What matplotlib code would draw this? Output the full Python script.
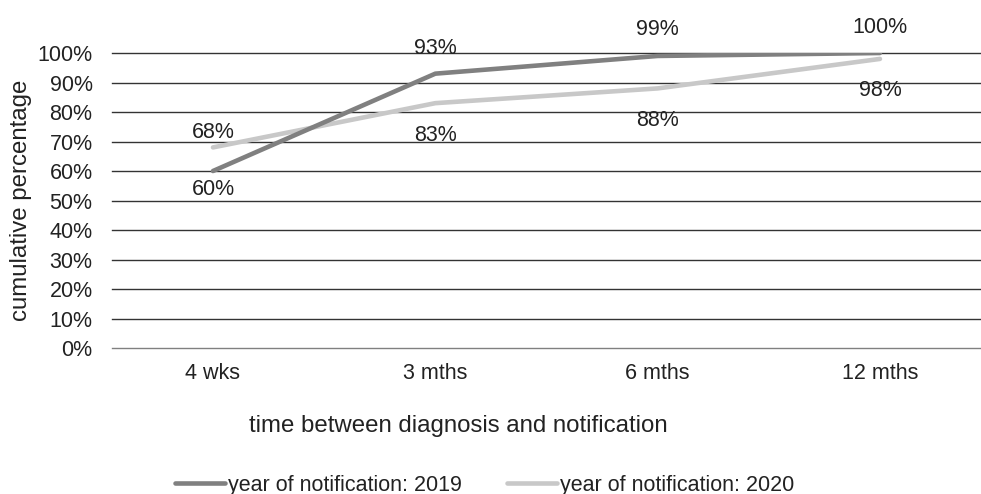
import matplotlib
matplotlib.use("Agg")
import matplotlib.pyplot as plt
from matplotlib.lines import Line2D

plt.rcParams["font.family"] = ["Liberation Sans", "DejaVu Sans"]

categories = ["4 wks", "3 mths", "6 mths", "12 mths"]
pct_2019 = [60, 93, 99, 100]
pct_2020 = [68, 83, 88, 98]
yticks = list(range(0, 101, 10))

# pixel offsets of the value labels from their points (layout only)
off_2019 = [-18, 25, 26, 26]
off_2020 = [15, -32, -32, -32]

c2019 = "#808080"
c2020 = "#c8c8c8"
txt = "#222222"
fs = 15.5
fs_title = 17.3

fig = plt.figure(figsize=(9.81, 4.94), dpi=100)
ax = fig.add_axes([0.1142, 0.2955, 0.8848, 0.5972])

for y in yticks:
    ax.axhline(y, color="#333333" if y else "#808080", linewidth=1.0,
               zorder=1, clip_on=False)

x = list(range(len(categories)))
ax.plot(x, pct_2019, color=c2019, linewidth=3.3, solid_capstyle="round", zorder=3)
ax.plot(x, pct_2020, color=c2020, linewidth=3.3, solid_capstyle="round", zorder=2)

for i in x:
    ax.annotate(f"{pct_2019[i]}%", (i, pct_2019[i]), xytext=(0, off_2019[i]),
                textcoords="offset pixels", ha="center", va="center",
                fontsize=fs, color=txt, annotation_clip=False)
    ax.annotate(f"{pct_2020[i]}%", (i, pct_2020[i]), xytext=(0, off_2020[i]),
                textcoords="offset pixels", ha="center", va="center",
                fontsize=fs, color=txt, annotation_clip=False)

ax.set_xlim(-0.454, 3.45)
ax.set_ylim(0, 100)
ax.set_yticks(yticks)
ax.set_yticklabels([f"{v}%" for v in yticks], fontsize=fs, color=txt)
ax.set_xticks(x)
ax.set_xticklabels(categories, fontsize=fs, color=txt)
ax.tick_params(axis="both", length=0)
ax.tick_params(axis="y", pad=14)
ax.tick_params(axis="x", pad=11)
for s in ax.spines.values():
    s.set_visible(False)

ax.set_ylabel("cumulative percentage", fontsize=fs_title, color=txt)
ax.yaxis.set_label_coords(-0.092, 0.5)
ax.set_xlabel("time between diagnosis and notification", fontsize=fs_title, color=txt)
ax.xaxis.set_label_coords(0.399, -0.228)

handles = [
    Line2D([], [], color=c2019, linewidth=3.3, solid_capstyle="round"),
    Line2D([], [], color=c2020, linewidth=3.3, solid_capstyle="round"),
]
fig.legend(handles, ["year of notification: 2019", "year of notification: 2020"],
           loc="center", bbox_to_anchor=(0.494, 0.018), ncol=2, frameon=False,
           fontsize=fs, handlelength=2.3, handletextpad=0.14, columnspacing=2.1,
           labelcolor=txt)

fig.savefig("out.png", dpi=100)
